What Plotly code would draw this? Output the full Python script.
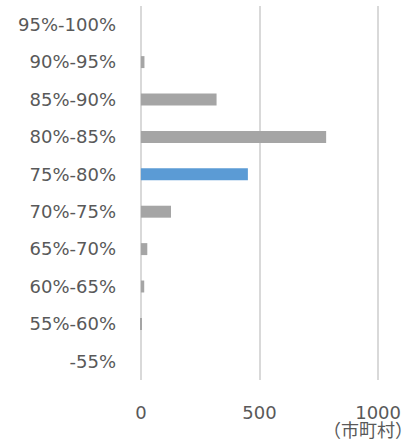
import plotly.graph_objects as go

categories = ["-55%", "55%-60%", "60%-65%", "65%-70%", "70%-75%",
              "75%-80%", "80%-85%", "85%-90%", "90%-95%", "95%-100%"]
values = [0, 2, 14, 27, 127, 451, 781, 319, 15, 0]
highlight = "75%-80%"
x_ticks = [0, 500, 1000]
unit_label = "（市町村）"

colors = ["#5b9bd5" if c == highlight else "#a5a5a5" for c in categories]

fig = go.Figure(go.Bar(
    y=categories, x=values, orientation="h",
    marker=dict(color=colors, line=dict(width=0)),
    width=0.32,
))

font_family = "DejaVu Sans, Noto Sans CJK JP, sans-serif"
fig.update_layout(
    width=415, height=442,
    margin=dict(l=139, r=35, t=6, b=62),
    paper_bgcolor="white", plot_bgcolor="white",
    showlegend=False,
    font=dict(family=font_family, color="#595959", size=18),
    xaxis=dict(range=[-8, 1008], tickvals=x_ticks, showgrid=True,
               gridcolor="#d9d9d9", gridwidth=1.5,
               zeroline=True, zerolinecolor="#d9d9d9", zerolinewidth=1.5,
               showline=False, ticks="", ticklabelstandoff=20,
               automargin=False,
               tickfont=dict(size=18, color="#595959")),
    yaxis=dict(categoryorder="array", categoryarray=categories,
               range=[-0.5, 9.5], showgrid=False, zeroline=False,
               showline=False, ticks="", ticklabelstandoff=22,
               automargin=False,
               tickfont=dict(size=18, color="#595959")),
    annotations=[dict(text=unit_label, xref="paper", yref="paper",
                      x=0.949, y=-0.132, xanchor="center", yanchor="middle",
                      showarrow=False,
                      font=dict(size=18, color="#595959",
                                family="Noto Sans CJK JP, sans-serif"))],
)

fig.write_html("out.html",
               config={"displayModeBar": False},
               post_script="document.body.style.margin='0';")
